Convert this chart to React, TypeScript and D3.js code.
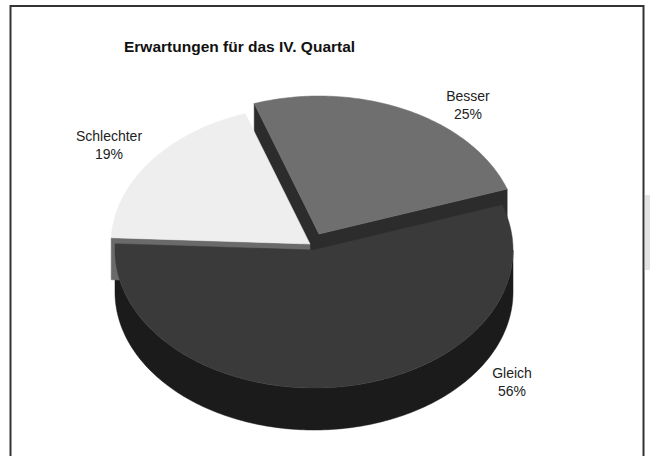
import React from "react";
import * as d3 from "d3";

const categories = ["Besser", "Gleich", "Schlechter"];
const values = [25, 56, 19];
const percentLabels = ["25%", "56%", "19%"];
const title = "Erwartungen für das IV. Quartal";

// styling / layout
const topColors = ["#6f6f6f", "#3a3a3a", "#eeeeee"];
const sideColors = ["#2c2c2c", "#1b1b1b", "#6a6a6a"];
const explode = [
  [5, -16],
  [0, 0],
  [-4, -6],
];
const labelPos = [
  [468, 101],
  [512, 378],
  [109, 141],
];

const W = 650;
const H = 456;
const cx = 314;
const cy = 250;
const rx = 199;
const ry = 138;
const depth = 42;
const rad = Math.PI / 180;

export default function App() {
  const pie = d3
    .pie<number>()
    .sort(null)
    .startAngle(-19 * rad)
    .endAngle(-19 * rad + 2 * Math.PI);
  const arcs = pie(values);

  const line = d3.line<[number, number]>().curve(d3.curveLinear);

  const pt = (i: number, a: number, r: number, dz = 0): [number, number] => [
    cx + explode[i][0] + rx * r * Math.sin(a),
    cy + explode[i][1] - ry * r * Math.cos(a) + dz,
  ];

  const arcPts = (i: number, a0: number, a1: number, dz = 0) => {
    const n = Math.max(2, Math.ceil(Math.abs(a1 - a0) / rad));
    return d3.range(n + 1).map((k) => pt(i, a0 + ((a1 - a0) * k) / n, 1, dz));
  };

  const sides: React.ReactNode[] = [];
  const tops: React.ReactNode[] = [];

  arcs.forEach((d, i) => {
    const a0 = d.startAngle;
    const a1 = d.endAngle;
    const c = pt(i, 0, 0);
    const cb = pt(i, 0, 0, depth);
    const faces: number[][] = [];
    if (Math.cos(a0 - Math.PI / 2) < 0) faces.push([a0]);
    if (Math.cos(a1 + Math.PI / 2) < 0) faces.push([a1]);
    faces.forEach(([a], k) => {
      const p = pt(i, a, 1);
      const pb = pt(i, a, 1, depth);
      sides.push(
        <path
          key={`f${i}-${k}`}
          d={line([c, p, pb, cb])! + "Z"}
          fill={sideColors[i]}
          stroke={sideColors[i]}
          strokeWidth={0.5}
        />
      );
    });
    const lo = 90 * rad;
    const hi = 270 * rad;
    const segs: [number, number][] = [];
    for (const shift of [0, 2 * Math.PI, -2 * Math.PI]) {
      const s0 = Math.max(a0, lo + shift);
      const s1 = Math.min(a1, hi + shift);
      if (s1 > s0) segs.push([s0, s1]);
    }
    segs.forEach(([s0, s1], k) => {
      const topPts = arcPts(i, s0, s1);
      const botPts = arcPts(i, s0, s1, depth).reverse();
      sides.push(
        <path
          key={`w${i}-${k}`}
          d={line([...topPts, ...botPts])! + "Z"}
          fill={sideColors[i]}
          stroke={sideColors[i]}
          strokeWidth={0.5}
        />
      );
    });
    tops.push(
      <path
        key={`t${i}`}
        d={line([c, ...arcPts(i, a0, a1)])! + "Z"}
        fill={topColors[i]}
        stroke={topColors[i]}
        strokeWidth={0.5}
      />
    );
  });

  const order = [0, 2, 1];

  return (
    <svg
      width={W}
      height={H}
      style={{ position: "absolute", left: 0, top: 0, background: "#fff" }}
      fontFamily="'Liberation Sans', Arial, sans-serif"
    >
      <rect x={0} y={0} width={W} height={H} fill="#fff" />
      <rect x={645} y={195} width={5} height={75} fill="#e3e3e3" />
      <rect
        x={10.5}
        y={6}
        width={633}
        height={470}
        fill="none"
        stroke="#333"
        strokeWidth={2}
      />
      <text x={124} y={52} fontSize={15.5} fontWeight="bold" fill="#111">
        {title}
      </text>
      {sides}
      {order.map((i) => tops[i])}
      {categories.map((c, i) => (
        <g key={c}>
          <text
            x={labelPos[i][0]}
            y={labelPos[i][1]}
            textAnchor="middle"
            fontSize={14}
            fill="#222"
          >
            {c}
          </text>
          <text
            x={labelPos[i][0]}
            y={labelPos[i][1] + 18}
            textAnchor="middle"
            fontSize={14}
            fill="#222"
          >
            {percentLabels[i]}
          </text>
        </g>
      ))}
    </svg>
  );
}
